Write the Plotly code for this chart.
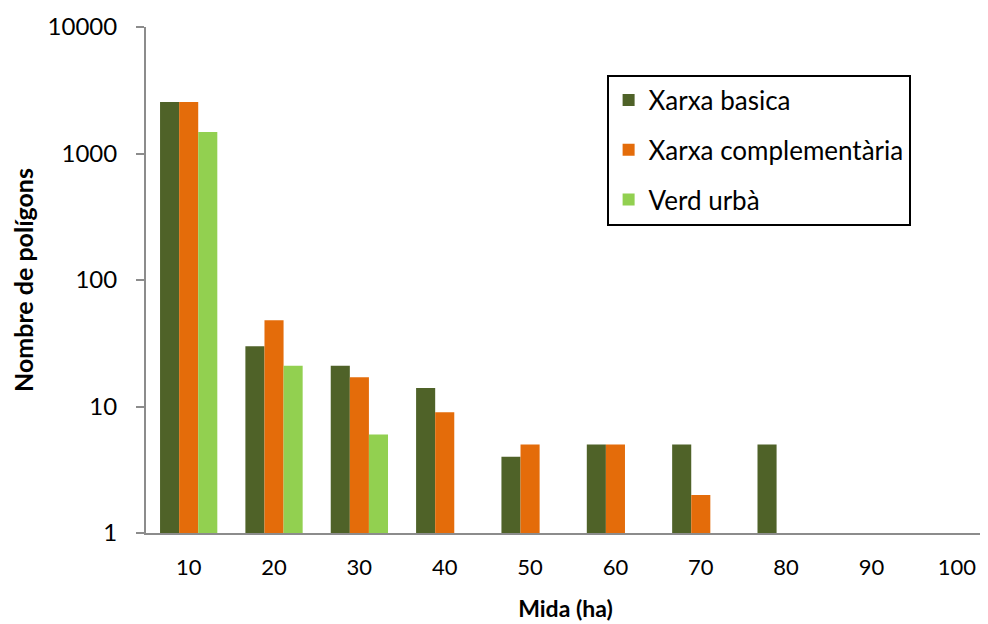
import plotly.graph_objects as go

categories = ["10", "20", "30", "40", "50", "60", "70", "80", "90", "100"]
xarxa_basica = [2550, 30, 21, 14, 4, 5, 5, 5, None, None]
xarxa_complementaria = [2550, 48, 17, 9, 5, 5, 2, None, None, None]
verd_urba = [1480, 21, 6, None, None, None, None, None, None, None]

series = [
    ("Xarxa basica", xarxa_basica, "#4F6228"),
    ("Xarxa complementària", xarxa_complementaria, "#E46C0A"),
    ("Verd urbà", verd_urba, "#92D050"),
]

fig = go.Figure()
for i, (name, vals, col) in enumerate(series):
    fig.add_trace(go.Bar(
        x=categories, y=vals, name=name, legendgroup=f"g{i}",
        marker=dict(color=col, line=dict(width=0)),
    ))

fig.update_layout(
    width=980, height=616,
    paper_bgcolor="white", plot_bgcolor="white",
    margin=dict(l=138, r=3, t=17, b=91),
    barmode="group", bargap=0.329, bargroupgap=0,
    font=dict(family="Lato, sans-serif", color="black"),
    legend=dict(
        x=0.549, y=0.906, xanchor="left", yanchor="top",
        bordercolor="black", borderwidth=2, bgcolor="white",
        font=dict(size=26, family="Lato, sans-serif"),
        tracegroupgap=13, itemwidth=30,
    ),
    xaxis=dict(
        type="category", range=[-0.5, 9.33], showgrid=False, showline=True,
        linecolor="#8C8C8C", linewidth=2, ticks="",
        tickfont=dict(size=22),
        ticklabelstandoff=14,
        title=dict(text="<b>Mida (ha)</b>", standoff=21,
                   font=dict(size=23)),
    ),
    yaxis=dict(
        type="log", range=[0, 4], showgrid=False, showline=True,
        linecolor="#8C8C8C", linewidth=2, ticks="outside", ticklen=8,
        tickcolor="#8C8C8C", tickwidth=2,
        tickvals=[1, 10, 100, 1000, 10000],
        ticktext=["1", "10", "100", "1000", "10000"],
        tickfont=dict(size=24),
        ticklabelstandoff=14,
        title=dict(text="<b>Nombre de polígons</b>", standoff=10,
                   font=dict(size=25)),
        zeroline=False,
    ),
)

fig.write_html("out.html")
